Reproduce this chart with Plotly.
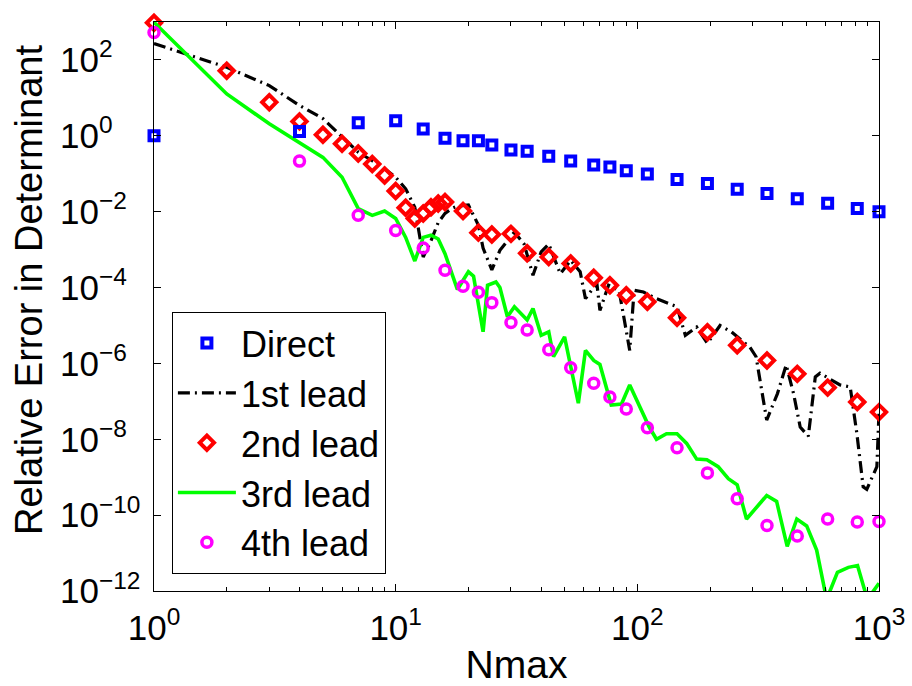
import plotly.graph_objects as go

# ---- data -------------------------------------------------------------
n_direct = [1, 4, 7, 10, 13, 16, 19, 22, 25, 30, 35, 43, 53, 66, 77, 90,
            110, 146, 195, 259, 344, 459, 613, 813, 1000]
err_direct = [1.0, 1.3, 2.2, 2.5, 1.5, 0.86, 0.74, 0.74, 0.57, 0.42, 0.39,
              0.29, 0.215, 0.17, 0.15, 0.12, 0.098, 0.071, 0.055, 0.039,
              0.030, 0.022, 0.0166, 0.0122, 0.010]

n_first = [1, 2, 3, 4, 5, 6, 7, 8, 9, 10, 11, 12, 13, 14, 15, 16, 17, 18,
           20, 22, 23, 25, 27, 31, 34, 37, 40, 43, 48, 53, 58, 61, 68, 70,
           76, 84, 93, 97, 106, 120, 146, 158, 176, 195, 220, 245, 292,
           310, 343, 380, 413, 443, 472, 510, 545, 570, 690, 760, 810, 860,
           890, 980, 1000]
err_first = [270, 64, 21, 6.3, 2.85, 0.91, 0.37, 0.22, 0.135, 0.081, 0.04,
             0.013, 6.4e-4, 1.7e-3, 5.2e-3, 9e-3, 1.2e-2, 1.4e-2, 1.5e-2,
             4.4e-3, 1.1e-3, 2.9e-4, 9.6e-4, 2.9e-3, 1.4e-3, 2.1e-4, 8.7e-4,
             1.4e-3, 2.3e-4, 5.2e-4, 2.6e-4, 5.1e-5, 1.3e-4, 2.5e-5, 1.15e-4,
             8.5e-5, 2.2e-6, 8.5e-5, 7.6e-5, 5.1e-5, 3.1e-5, 5.5e-6, 9.1e-6,
             3.4e-6, 1.0e-5, 6.8e-6, 2.7e-6, 1.5e-6, 3.2e-8, 1.6e-7, 9.1e-7,
             1.6e-7, 2.1e-8, 1.2e-8, 4.4e-7, 5.5e-7, 2.7e-7, 2.4e-7, 1.4e-8,
             5.6e-10, 4.8e-10, 1.9e-9, 5.2e-8]

n_second = [1, 2, 3, 4, 5, 6, 7, 8, 9, 10, 11, 12, 13, 14, 15, 16, 19, 22,
            25, 30, 35, 43, 53, 66, 77, 90, 110, 146, 195, 259, 344, 459,
            613, 813, 1000]
err_second = [950, 52, 7.7, 2.4, 1.06, 0.62, 0.34, 0.18, 0.09, 0.035, 0.0127,
              0.0066, 0.0089, 0.013, 0.0165, 0.018, 0.0104, 0.0028, 0.0025,
              0.0026, 8e-4, 6.4e-4, 4.3e-4, 1.8e-4, 1.15e-4, 6.3e-5, 4.2e-5,
              1.6e-5, 6.6e-6, 3e-6, 1.2e-6, 5.3e-7, 2.3e-7, 9.6e-8, 5.2e-8]

n_third = [1, 2, 3, 4, 5, 6, 7, 8, 9, 10, 11, 12, 13, 14, 15, 16, 18, 20,
           21, 23, 24, 26, 27, 29, 31, 35, 37, 40, 43, 45, 50, 57, 61, 66,
           70, 78, 86, 93, 112, 120, 132, 146, 160, 176, 194, 216, 238, 259,
           283, 343, 377, 417, 457, 502, 552, 607, 673, 747, 815, 895, 1000]
err_third = [980, 12.7, 2.07, 0.68, 0.27, 0.081, 0.012, 0.008, 0.0104,
             0.0066, 0.0021, 5.0e-4, 2.1e-3, 2.4e-3, 1.9e-3, 7.8e-4, 8.9e-5,
             2.6e-4, 2.0e-4, 6.8e-6, 1.15e-4, 1.4e-4, 1.0e-4, 1.7e-5, 3.1e-5,
             1.4e-5, 2.8e-5, 5.5e-6, 6.8e-6, 1.5e-6, 5.0e-6, 8.9e-8, 2.2e-6,
             1.2e-6, 9.4e-7, 8.0e-8, 8.5e-8, 2.7e-7, 2.1e-8, 1.0e-8, 1.4e-8,
             1.4e-8, 7.8e-9, 3.0e-9, 2.9e-9, 1.9e-9, 9.1e-10, 6.3e-10,
             7.9e-11, 3.3e-10, 2.3e-10, 1.5e-11, 7.9e-11, 5.2e-11, 1.2e-11,
             6e-13, 3.1e-12, 4.2e-12, 4.7e-12, 6e-13, 1.6e-12]

n_fourth = [1, 4, 7, 10, 13, 16, 19, 22, 25, 30, 35, 43, 53, 66, 77, 90,
            110, 146, 195, 259, 344, 459, 613, 813, 1000]
err_fourth = [530, 0.215, 0.008, 0.0032, 1.1e-3, 2.85e-4, 1.08e-4, 7.5e-5,
              4e-5, 1.2e-5, 7.6e-6, 2.3e-6, 7.7e-7, 3e-7, 1.3e-7, 6.3e-8,
              2e-8, 6e-9, 1.3e-9, 2.7e-10, 5.3e-11, 2.8e-11, 7.9e-11,
              6.6e-11, 6.8e-11]

x_tick_vals = [1, 10, 100, 1000]
x_tick_text = ["10<sup>0</sup>", "10<sup>1</sup>", "10<sup>2</sup>", "10<sup>3</sup>"]
x_minor_vals = [m * d for d in (1, 10, 100) for m in range(2, 10)]
y_tick_vals = [1e-12, 1e-10, 1e-8, 1e-6, 1e-4, 1e-2, 1e0, 1e2]
y_tick_text = ["10<sup>\u221212</sup>", "10<sup>\u221210</sup>", "10<sup>\u22128</sup>",
               "10<sup>\u22126</sup>", "10<sup>\u22124</sup>", "10<sup>\u22122</sup>",
               "10<sup>0</sup>", "10<sup>2</sup>"]

# ---- figure -----------------------------------------------------------
FONT = "Liberation Sans, Arial, Helvetica, sans-serif"
W, H = 912, 686
ML, MR, MT, MB = 0, 33, 22, 95
PW = W - ML - MR
PH = H - MT - MB
PLOT_LEFT = 154  # left edge of the axes box inside the paper area

fig = go.Figure()

# "Direct" sits on the label axis y2, which shares the range of y
fig.add_trace(go.Scatter(
    x=n_direct, y=err_direct, mode="markers", name="Direct", yaxis="y2",
    marker=dict(symbol="square-open", size=9, color="#0000ff",
                line=dict(width=4, color="#0000ff")),
    cliponaxis=False))

fig.add_trace(go.Scatter(
    x=n_first, y=err_first, mode="lines", name="1st lead",
    line=dict(color="black", width=3.2, dash="12px,5px,2px,5px")))

fig.add_trace(go.Scatter(
    x=n_second, y=err_second, mode="markers", name="2nd lead",
    marker=dict(symbol="diamond-open", size=11, color="#ff0000",
                line=dict(width=4, color="#ff0000")),
    cliponaxis=False))

fig.add_trace(go.Scatter(
    x=n_third, y=err_third, mode="lines", name="3rd lead",
    line=dict(color="#00ff00", width=3.6)))

fig.add_trace(go.Scatter(
    x=n_fourth, y=err_fourth, mode="markers", name="4th lead",
    marker=dict(symbol="circle-open", size=10, color="#ff00ff",
                line=dict(width=3.5, color="#ff00ff")),
    cliponaxis=False))

axis_common = dict(
    type="log", showline=True, linecolor="black", linewidth=1.2,
    mirror="ticks", ticks="inside", tickcolor="black", tickwidth=1,
    ticklen=7, showgrid=False, zeroline=False, automargin=False,
    tickfont=dict(family=FONT, size=35, color="black"),
)

fig.update_layout(
    width=W, height=H,
    margin=dict(l=ML, r=MR, t=MT, b=MB, pad=0, autoexpand=False),
    paper_bgcolor="white", plot_bgcolor="white",
    font=dict(family=FONT, color="black"),
    xaxis=dict(
        **axis_common,
        domain=[PLOT_LEFT / PW, 1],
        range=[0, 3],
        tickvals=x_tick_vals, ticktext=x_tick_text,
        ticklabelstandoff=6,
        minor=dict(tickvals=x_minor_vals, ticks="inside", ticklen=4,
                   tickcolor="black", tickwidth=1, showgrid=False),
        title=dict(text="Nmax", font=dict(family=FONT, size=39), standoff=14),
    ),
    yaxis=dict(
        **axis_common,
        range=[-12, 3],
        tickvals=y_tick_vals, showticklabels=False,
        anchor="x",
    ),
    # label axis placed left of the frame so the "10" bases line up on the left
    yaxis2=dict(
        type="log", overlaying="y", side="right", anchor="free",
        position=59 / PW, range=[-12, 3],
        tickvals=y_tick_vals, ticktext=y_tick_text,
        ticks="", showline=False, showgrid=False, zeroline=False,
        automargin=False,
        tickfont=dict(family=FONT, size=35, color="black"),
    ),
    legend=dict(
        x=171.7 / PW, y=(591 - 312) / PH,
        xanchor="left", yanchor="top",
        bgcolor="white", bordercolor="black", borderwidth=1.2,
        font=dict(family=FONT, size=36, color="black"),
        itemwidth=58, tracegroupgap=0,
    ),
    showlegend=True,
    annotations=[dict(
        text="Relative Error in Determinant", textangle=-90,
        xref="paper", yref="paper", x=29 / PW, y=(591 - 290) / PH,
        xanchor="center", yanchor="middle", showarrow=False,
        font=dict(family=FONT, size=38, color="black"),
    )],
)

fig.write_html("out.html")
